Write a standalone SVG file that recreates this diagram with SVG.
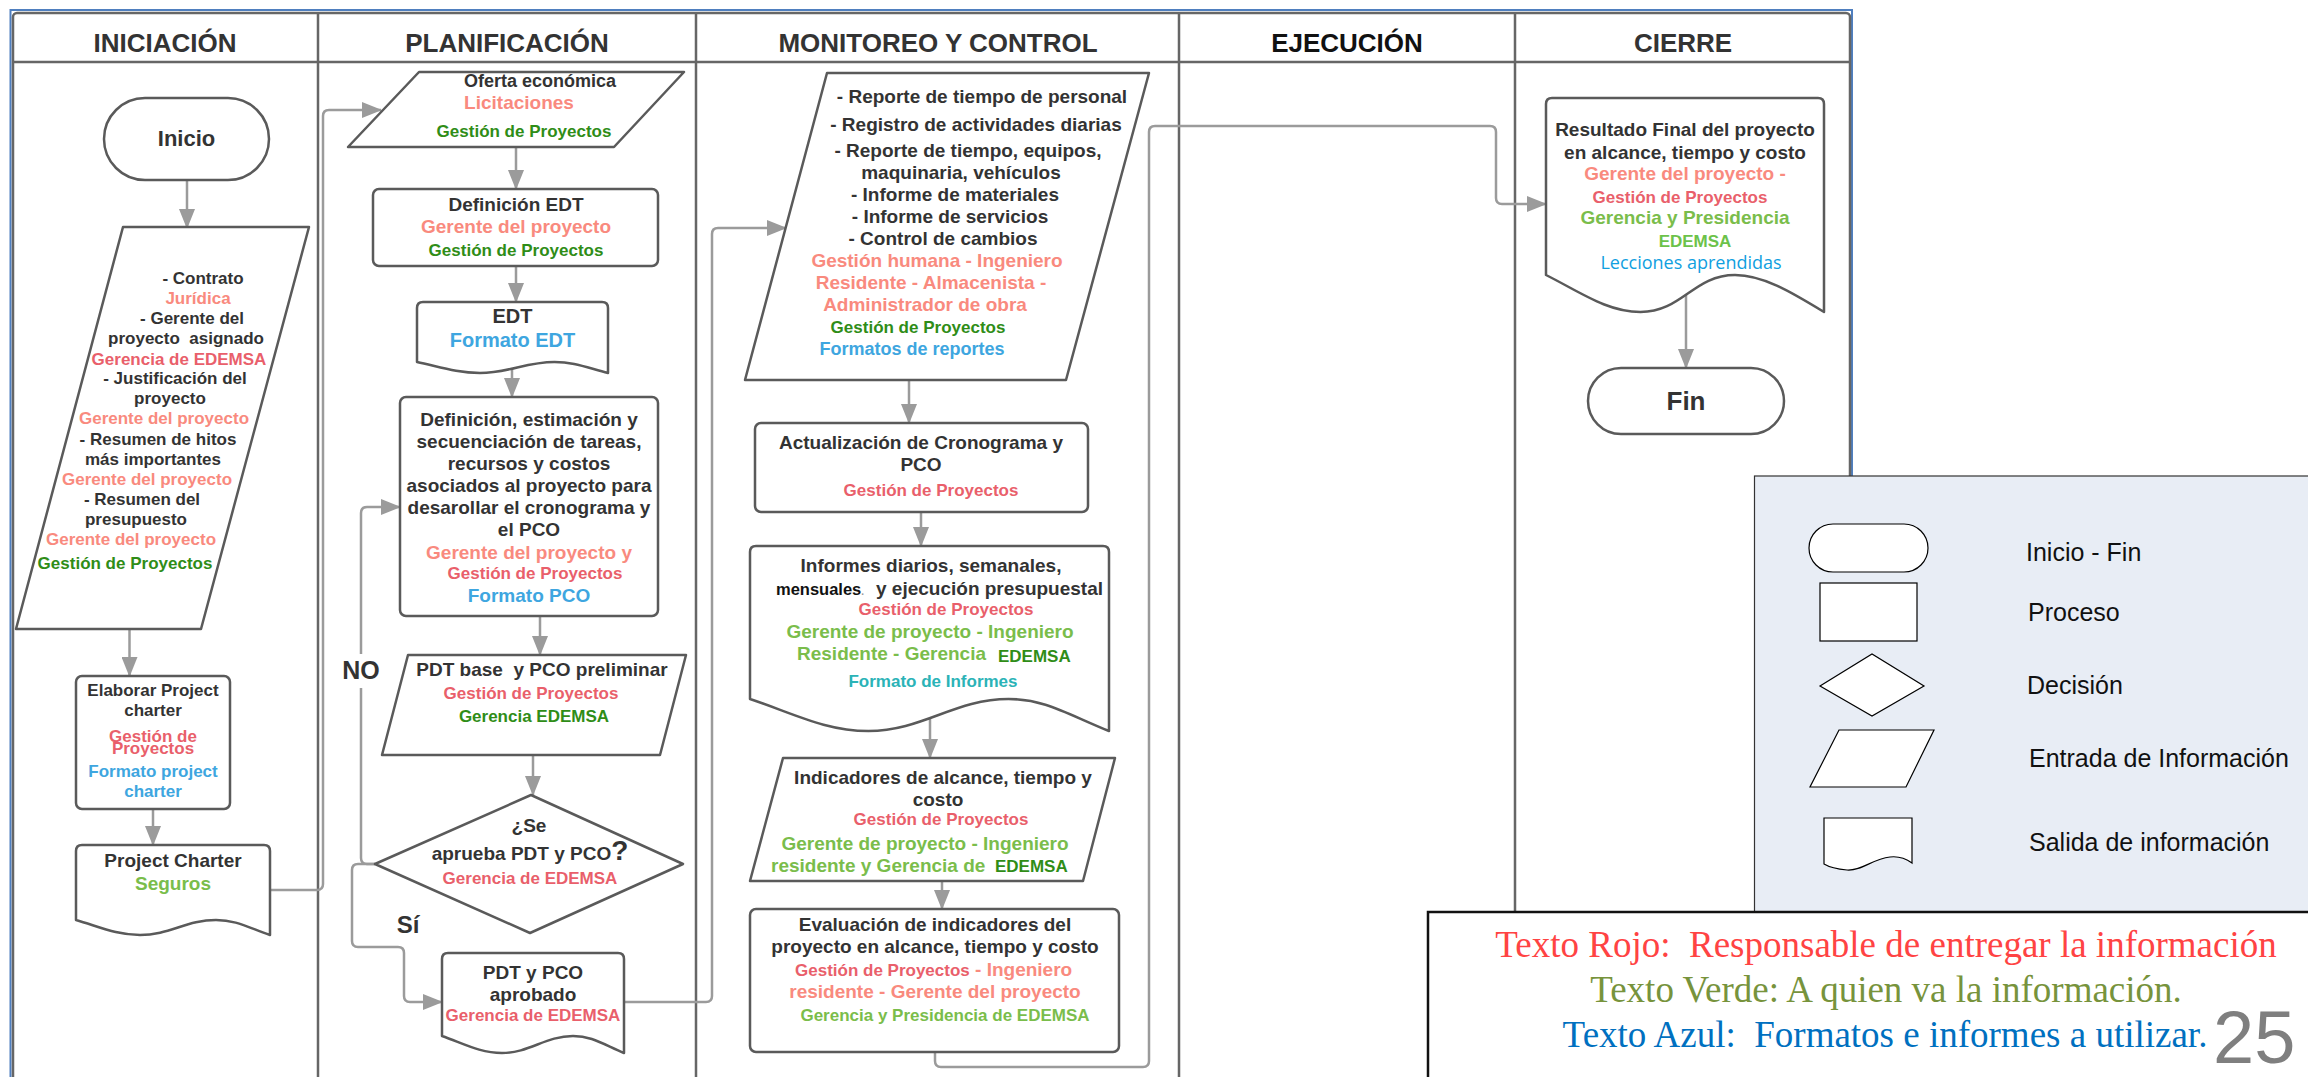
<svg xmlns="http://www.w3.org/2000/svg" width="2308" height="1077" viewBox="0 0 2308 1077">
<defs>
<marker id="ah" markerUnits="userSpaceOnUse" markerWidth="20" markerHeight="16" refX="19" refY="8" orient="auto"><path d="M0,0 L20,8 L0,16 Z" fill="#9b9b9b"/></marker>
<style>
.tx{font-family:"Liberation Sans",Arial,Helvetica,sans-serif;font-weight:700;text-anchor:middle}
.st{text-anchor:start}
.a{font-size:17px}.b{font-size:19px}
.k{fill:#333}.sa{fill:#f98a7e}.r{fill:#e95f6b}.g{fill:#2f8d17}.lg{fill:#7abd4b}.bl{fill:#3ea6e0}.tl{fill:#2bb3b7}
.hd{font-family:"Liberation Sans",Arial,Helvetica,sans-serif;font-weight:700;font-size:26px;text-anchor:middle;fill:#333}
.node{fill:#fff;stroke:#5a5a5a;stroke-width:2.5;stroke-linejoin:round}
.cn{fill:none;stroke:#9b9b9b;stroke-width:2.5;marker-end:url(#ah)}
.lgs{fill:#fff;stroke:#000;stroke-width:1.2}
.lgt{font-family:"Liberation Sans",Arial,Helvetica,sans-serif;font-size:25px;fill:#111}
.ser{font-family:"Liberation Serif","Times New Roman",serif;font-size:37px;text-anchor:middle}
</style>
</defs>
<rect width="2308" height="1077" fill="#fff"/>

<!-- swimlane frame -->
<g id="frame">
<rect x="10.5" y="10" width="1841.5" height="1100" fill="none" stroke="#4f7fbf" stroke-width="2"/>
<rect x="13" y="13" width="1837" height="1100" rx="4" fill="none" stroke="#666" stroke-width="2.5"/>
<path d="M13 62H1850 M318 13V1077 M696 13V1077 M1179 13V1077 M1515 13V1077" stroke="#666" stroke-width="2.5" fill="none"/>
<text class="hd" x="165" y="52">INICIACIÓN</text>
<text class="hd" x="507" y="52">PLANIFICACIÓN</text>
<text class="hd" x="938" y="52">MONITOREO Y CONTROL</text>
<text class="hd" x="1347" y="52" style="fill:#111">EJECUCIÓN</text>
<text class="hd" x="1683" y="52">CIERRE</text>
</g>

<!-- connectors -->
<g id="connectors">
<path class="cn" d="M187 180V228"/>
<path class="cn" d="M129.5 629V676"/>
<path class="cn" d="M153 809V845"/>
<path class="cn" d="M270 890H317Q323 890 323 884V116Q323 110 329 110H381"/>
<path class="cn" d="M516 147V189"/>
<path class="cn" d="M516 266V302"/>
<path class="cn" d="M512 368V397"/>
<path class="cn" d="M540 616V655"/>
<path class="cn" d="M533 755V795"/>
<path class="cn" d="M375 864H367Q361 864 361 858V513Q361 507 367 507H400"/>
<path class="cn" d="M375 864H358Q352 864 352 870V941Q352 947 358 947H398Q404 947 404 953V996Q404 1002 410 1002H442"/>
<path class="cn" d="M624 1002H706Q712 1002 712 996V234Q712 228 718 228H786"/>
<path class="cn" d="M909 380V423"/>
<path class="cn" d="M921 512V546"/>
<path class="cn" d="M930 716V758"/>
<path class="cn" d="M942 881V909"/>
<path class="cn" d="M935 1052V1061Q935 1067 941 1067H1143Q1149 1067 1149 1061V132Q1149 126 1155 126H1490Q1496 126 1496 132V198Q1496 204 1502 204H1546"/>
<path class="cn" d="M1686 294V368"/>
<rect x="341" y="654" width="40" height="34" fill="#fff"/>
<text class="tx" x="361" y="679" style="font-size:25px;fill:#333">NO</text>
<text class="tx" x="408" y="933" style="font-size:24px;fill:#333">Sí</text>
</g>

<g id="inicio">
<rect class="node" x="104" y="98" width="165" height="82" rx="41"/>
<text class="tx k" x="186.5" y="146" style="font-size:22px">Inicio</text>
</g>

<g id="entradas-iniciacion">
<path class="node" d="M123 227H309L201 629H16Z"/>
<text class="tx a k" x="203" y="284">- Contrato</text>
<text class="tx a sa" x="198" y="304">Jurídica</text>
<text class="tx a k" x="192" y="324">- Gerente del</text>
<text class="tx a k" x="186" y="344">proyecto&#160; asignado</text>
<text class="tx a r" x="179" y="365">Gerencia de EDEMSA</text>
<text class="tx a k" x="175" y="384">- Justificación del</text>
<text class="tx a k" x="170" y="404">proyecto</text>
<text class="tx a sa" x="164" y="424">Gerente del proyecto</text>
<text class="tx a k" x="158" y="445">- Resumen de hitos</text>
<text class="tx a k" x="153" y="465">más importantes</text>
<text class="tx a sa" x="147" y="485">Gerente del proyecto</text>
<text class="tx a k" x="142" y="505">- Resumen del</text>
<text class="tx a k" x="136" y="525">presupuesto</text>
<text class="tx a sa" x="131" y="545">Gerente del proyecto</text>
<text class="tx a g" x="125" y="569">Gestión de Proyectos</text>
</g>

<g id="elaborar-charter">
<rect class="node" x="76" y="676" width="154" height="133" rx="6"/>
<text class="tx a k" x="153" y="696">Elaborar Project</text>
<text class="tx a k" x="153" y="716">charter</text>
<text class="tx a r" x="153" y="742">Gestión de</text>
<text class="tx a r" x="153" y="754">Proyectos</text>
<text class="tx a bl" x="153" y="777">Formato project</text>
<text class="tx a bl" x="153" y="797">charter</text>
</g>

<g id="project-charter">
<path class="node" d="M76 920V851Q76 845 82 845H264Q270 845 270 851V935C246.7 926.75 235.4 920 216 920C186.9 920 169.1 935 140 935C116.7 935 99.3 926.75 76 920Z"/>
<text class="tx b k" x="173" y="867">Project Charter</text>
<text class="tx b lg" x="173" y="890">Seguros</text>
</g>

<g id="oferta">
<path class="node" d="M419 72H684L614 147H348Z"/>
<text class="tx k" x="540" y="87" style="font-size:18px">Oferta económica</text>
<text class="tx b sa" x="519" y="109">Licitaciones</text>
<text class="tx a g" x="524" y="137">Gestión de Proyectos</text>
</g>

<g id="definicion-edt">
<rect class="node" x="373" y="189" width="285" height="77" rx="6"/>
<text class="tx b k" x="516" y="211">Definición EDT</text>
<text class="tx b sa" x="516" y="233">Gerente del proyecto</text>
<text class="tx a g" x="516" y="256">Gestión de Proyectos</text>
</g>

<g id="edt">
<path class="node" d="M417 362V308Q417 302 423 302H602Q608 302 608 308V373C585.1 366.95 573.6 362 554.5 362C525.85 362 508.65 373 480 373C457.1 373 439.9 366.95 417 362Z"/>
<text class="tx k" x="512.5" y="323" style="font-size:20px">EDT</text>
<text class="tx bl" x="512.5" y="347" style="font-size:20px">Formato EDT</text>
</g>

<g id="definicion-tareas">
<rect class="node" x="400" y="397" width="258" height="219" rx="6"/>
<text class="tx b k" x="529" y="426">Definición, estimación y</text>
<text class="tx b k" x="529" y="448">secuenciación de tareas,</text>
<text class="tx b k" x="529" y="470">recursos y costos</text>
<text class="tx b k" x="529" y="492">asociados al proyecto para</text>
<text class="tx b k" x="529" y="514">desarollar el cronograma y</text>
<text class="tx b k" x="529" y="536">el PCO</text>
<text class="tx b sa" x="529" y="559">Gerente del proyecto y</text>
<text class="tx a r" x="535" y="579">Gestión de Proyectos</text>
<text class="tx b bl" x="529" y="602">Formato PCO</text>
</g>

<g id="pdt-base">
<path class="node" d="M408 655H686L660 755H382Z"/>
<text class="tx b k" x="542" y="676">PDT base&#160; y PCO preliminar</text>
<text class="tx a r" x="531" y="699">Gestión de Proyectos</text>
<text class="tx a g" x="534" y="722">Gerencia EDEMSA</text>
</g>

<g id="aprobacion">
<path class="node" d="M531 795L683 864L530 933L375 864Z"/>
<text class="tx b k" x="529" y="832">¿Se</text>
<text class="tx b k" x="530" y="860">aprueba PDT y PCO<tspan style="font-size:28px">?</tspan></text>
<text class="tx a r" x="530" y="884">Gerencia de EDEMSA</text>
</g>

<g id="pdt-aprobado">
<path class="node" d="M442 1036V959Q442 953 448 953H618Q624 953 624 959V1053C602.2 1043.65 591.2 1036 573 1036C545.7 1036 529.3 1053 502 1053C480.2 1053 463.8 1043.65 442 1036Z"/>
<text class="tx b k" x="533" y="979">PDT y PCO</text>
<text class="tx b k" x="533" y="1001">aprobado</text>
<text class="tx a r" x="533" y="1021">Gerencia de EDEMSA</text>
</g>

<g id="reportes">
<path class="node" d="M827 73H1149L1066 380H745Z"/>
<text class="tx b k" x="982" y="103">- Reporte de tiempo de personal</text>
<text class="tx b k" x="976" y="131">- Registro de actividades diarias</text>
<text class="tx b k" x="968" y="157">- Reporte de tiempo, equipos,</text>
<text class="tx b k" x="961" y="179">maquinaria, vehículos</text>
<text class="tx b k" x="955" y="201">- Informe de materiales</text>
<text class="tx b k" x="950" y="223">- Informe de servicios</text>
<text class="tx b k" x="943" y="245">- Control de cambios</text>
<text class="tx b sa" x="937" y="267">Gestión humana - Ingeniero</text>
<text class="tx b sa" x="931" y="289">Residente - Almacenista -</text>
<text class="tx b sa" x="925" y="311">Administrador de obra</text>
<text class="tx a g" x="918" y="333">Gestión de Proyectos</text>
<text class="tx bl" x="912" y="355" style="font-size:18px">Formatos de reportes</text>
</g>

<g id="actualizacion">
<rect class="node" x="755" y="423" width="333" height="89" rx="6"/>
<text class="tx b k" x="921" y="449">Actualización de Cronograma y</text>
<text class="tx b k" x="921" y="471">PCO</text>
<text class="tx a r" x="931" y="496">Gestión de Proyectos</text>
</g>

<g id="informes">
<path class="node" d="M750 699V552Q750 546 756 546H1103Q1109 546 1109 552V731C1065.9 713.4 1044.4 699 1008.5 699C954.65 699 922.35 731 868.5 731C825.4 731 793.1 713.4 750 699Z"/>
<text class="tx b k" x="931" y="572">Informes diarios, semanales,</text>
<text class="tx st" x="776" y="595"><tspan style="font-size:16.5px;fill:#111">mensuales</tspan><tspan style="font-size:10px;fill:#999">.</tspan><tspan class="b k" x="876">y ejecución presupuestal</tspan></text>
<text class="tx a r" x="946" y="615">Gestión de Proyectos</text>
<text class="tx b lg" x="930" y="638">Gerente de proyecto - Ingeniero</text>
<text class="tx b lg st" x="797" y="660">Residente - Gerencia</text>
<text class="tx a g st" x="998" y="662">EDEMSA</text>
<text class="tx a tl" x="933" y="687">Formato de Informes</text>
</g>

<g id="indicadores">
<path class="node" d="M783 758H1115L1083 881H750Z"/>
<text class="tx b k" x="943" y="784">Indicadores de alcance, tiempo y</text>
<text class="tx b k" x="938" y="806">costo</text>
<text class="tx a r" x="941" y="825">Gestión de Proyectos</text>
<text class="tx b lg" x="925" y="850">Gerente de proyecto - Ingeniero</text>
<text class="tx b lg st" x="771" y="872">residente y Gerencia de</text>
<text class="tx a g st" x="995" y="872">EDEMSA</text>
</g>

<g id="evaluacion">
<rect class="node" x="750" y="909" width="369" height="143" rx="6"/>
<text class="tx b k" x="935" y="931">Evaluación de indicadores del</text>
<text class="tx b k" x="935" y="953">proyecto en alcance, tiempo y costo</text>
<text class="tx st" x="795" y="976"><tspan class="a r">Gestión de Proyectos</tspan><tspan class="b sa"> - Ingeniero</tspan></text>
<text class="tx b sa" x="935" y="998">residente - Gerente del proyecto</text>
<text class="tx a lg" x="945" y="1021">Gerencia y Presidencia de EDEMSA</text>
</g>

<g id="resultado-final">
<path class="node" d="M1546 275V104Q1546 98 1552 98H1818Q1824 98 1824 104V312C1790.6 291.65 1762.8 275 1735 275C1693.3 275 1682.2 312 1640.5 312C1607.1 312 1579.4 291.65 1546 275Z"/>
<text class="tx b k" x="1685" y="136">Resultado Final del proyecto</text>
<text class="tx b k" x="1685" y="159">en alcance, tiempo y costo</text>
<text class="tx b sa" x="1685" y="180">Gerente del proyecto -</text>
<text class="tx a r" x="1680" y="203">Gestión de Proyectos</text>
<text class="tx b lg" x="1685" y="224">Gerencia y Presidencia</text>
<text class="tx a" x="1695" y="247" style="fill:#6cc24a">EDEMSA</text>
<text x="1691" y="269" style="font-family:'Open Sans','Liberation Sans',sans-serif;font-size:18px;fill:#10a0e0;text-anchor:middle">Lecciones aprendidas</text>
</g>

<g id="fin">
<rect class="node" x="1588" y="368" width="196" height="66" rx="33"/>
<text class="tx k" x="1686" y="410" style="font-size:26px">Fin</text>
</g>

<!-- symbol key -->
<g id="leyenda">
<rect x="1754.5" y="476" width="560" height="436" fill="#e8edf5" stroke="#333" stroke-width="1.2"/>
<rect class="lgs" x="1809" y="524" width="119" height="48" rx="24"/>
<rect class="lgs" x="1820" y="583" width="97" height="58"/>
<path class="lgs" d="M1820 686L1872 654L1924 686L1872 716Z"/>
<path class="lgs" d="M1839 730H1934L1906 787H1810Z"/>
<path class="lgs" d="M1824 818H1912V863C1905 858 1898 856 1890 857C1872 859 1862 871 1847 870C1836 869 1829 867 1824 864Z"/>
<text class="lgt" x="2026" y="561">Inicio - Fin</text>
<text class="lgt" x="2028" y="621">Proceso</text>
<text class="lgt" x="2027" y="694">Decisión</text>
<text class="lgt" x="2029" y="767">Entrada de Información</text>
<text class="lgt" x="2029" y="851">Salida de información</text>
</g>

<!-- colour key -->
<g id="nota-colores">
<rect x="1428" y="912" width="920" height="200" fill="#fff" stroke="#111" stroke-width="2.5"/>
<text class="ser" x="1886" y="957" style="fill:#ff4343">Texto Rojo:&#160; Responsable de entregar la información</text>
<text class="ser" x="1886" y="1002" style="fill:#77933c">Texto Verde: A quien va la información.</text>
<text class="ser" x="1885" y="1047" style="fill:#0070c0">Texto Azul:&#160; Formatos e informes a utilizar.</text>
<text x="2213" y="1063" style="font-family:'Liberation Sans',Arial,sans-serif;font-size:74px;fill:#7f7f7f">25</text>
</g>
</svg>
